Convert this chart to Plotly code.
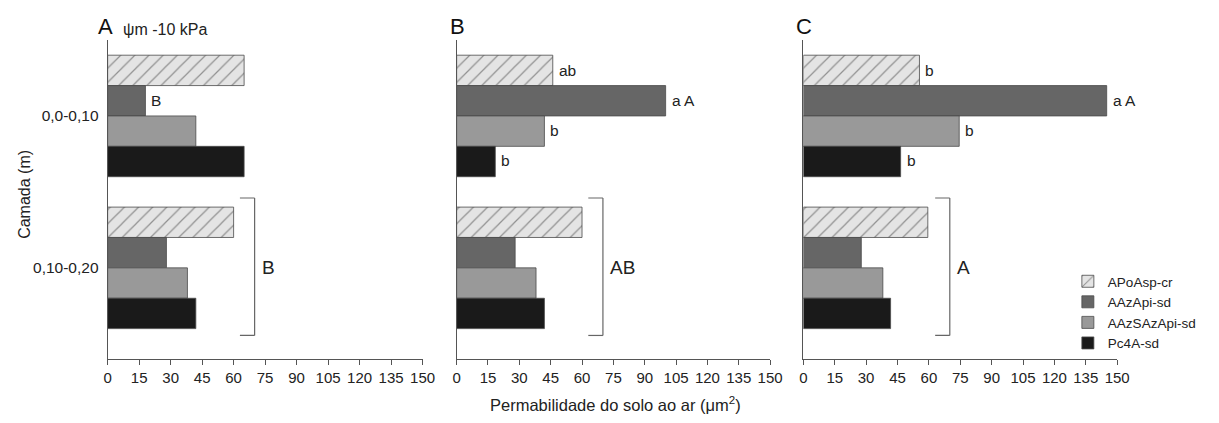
import plotly.graph_objects as go

layers = ["0,0-0,10", "0,10-0,20"]
series_names = ["APoAsp-cr", "AAzApi-sd", "AAzSAzApi-sd", "Pc4A-sd"]
panels = ["A", "B", "C"]

# values[panel][series] -> [layer1, layer2]
values_A = {
    "APoAsp-cr": [65, 60],
    "AAzApi-sd": [18, 28],
    "AAzSAzApi-sd": [42, 38],
    "Pc4A-sd": [65, 42],
}
values_B = {
    "APoAsp-cr": [46, 60],
    "AAzApi-sd": [100, 28],
    "AAzSAzApi-sd": [42, 38],
    "Pc4A-sd": [18.5, 42],
}
values_C = {
    "APoAsp-cr": [55.5, 59.5],
    "AAzApi-sd": [145, 27.7],
    "AAzSAzApi-sd": [74.5, 38],
    "Pc4A-sd": [46.5, 41.7],
}
labels_A = {
    "APoAsp-cr": [None, None],
    "AAzApi-sd": ["B", None],
    "AAzSAzApi-sd": [None, None],
    "Pc4A-sd": [None, None],
}
labels_B = {
    "APoAsp-cr": ["ab", None],
    "AAzApi-sd": ["a A", None],
    "AAzSAzApi-sd": ["b", None],
    "Pc4A-sd": ["b", None],
}
labels_C = {
    "APoAsp-cr": ["b", None],
    "AAzApi-sd": ["a A", None],
    "AAzSAzApi-sd": ["b", None],
    "Pc4A-sd": ["b", None],
}
bracket_labels = ["B", "AB", "A"]
x_ticks = [0, 15, 30, 45, 60, 75, 90, 105, 120, 135, 150]

all_values = [values_A, values_B, values_C]
all_labels = [labels_A, labels_B, labels_C]

colors = {
    "APoAsp-cr": "#e4e4e4",
    "AAzApi-sd": "#666666",
    "AAzSAzApi-sd": "#999999",
    "Pc4A-sd": "#1a1a1a",
}

# page has an 8px body margin; figure sized to fit inside the window
OFF = 8
W, H = 1219 - 2 * OFF, 423 - 2 * OFF


def px(x):
    return (x - OFF) / W


def py(y):
    return 1 - (y - OFF) / H


x_domains = [[px(105), px(424.5)], [px(459), px(777)], [px(810.7), px(1129)]]
y_domain = [py(359), py(40)]
bar_px = 30  # pixel thickness of each bar (0.8 of 152px category / 4)
label_yshift = [1.5 * bar_px, 0.5 * bar_px, -0.5 * bar_px, -1.5 * bar_px]

FONT = "Liberation Sans, Arial, sans-serif"
fig = go.Figure()

for p in range(3):
    xa = "x" if p == 0 else f"x{p+1}"
    ya = "y" if p == 0 else f"y{p+1}"
    for si, s in enumerate(series_names):
        marker = dict(color=colors[s], line=dict(color="#4a4a4a", width=0.8))
        if s == "APoAsp-cr":
            marker["pattern"] = dict(shape="/", fgcolor="#3c3c3c", bgcolor="#e4e4e4",
                                     size=10, solidity=0.12)
        fig.add_trace(go.Bar(
            y=layers, x=all_values[p][s], orientation="h", name=s,
            marker=marker, showlegend=(p == 2), legendgroup=s,
            xaxis=xa, yaxis=ya, hoverinfo="x+name",
        ))
        for li, lab in enumerate(all_labels[p][s]):
            if lab is None:
                continue
            fig.add_annotation(xref=xa, yref=ya, x=all_values[p][s][li], y=layers[li],
                               text=lab, showarrow=False, xanchor="left",
                               yanchor="middle", xshift=4, yshift=label_yshift[si],
                               font=dict(size=15.5, color="#222", family=FONT))

    axis_x = dict(domain=x_domains[p], range=[0, 150], tickvals=x_ticks,
                  showline=True, linecolor="#555", linewidth=1,
                  ticks="outside", ticklen=5, tickcolor="#555",
                  showgrid=False, zeroline=False,
                  tickfont=dict(size=15, color="#222", family=FONT),
                  anchor=ya)
    axis_y = dict(domain=y_domain, type="category", range=[1.6, -0.5],
                  showline=True, linecolor="#555", linewidth=1,
                  ticks="", showgrid=False, zeroline=False,
                  showticklabels=(p == 0), ticklabelstandoff=5,
                  tickfont=dict(size=15.5, color="#222", family=FONT),
                  anchor=xa)
    key = "" if p == 0 else str(p + 1)
    fig.layout["xaxis" + key] = axis_x
    fig.layout["yaxis" + key] = axis_y

    # bracket around second layer
    bx, bx0, yt, yb = 70, 63, 0.54, 1.445
    for (x0, y0, x1, y1) in [(bx0, yt, bx, yt), (bx, yt, bx, yb), (bx0, yb, bx, yb)]:
        fig.add_shape(type="line", xref=xa, yref=ya, x0=x0, y0=y0, x1=x1, y1=y1,
                      line=dict(color="#666", width=1.2))
    fig.add_annotation(xref=xa, yref=ya, x=72.5, y=1, text=bracket_labels[p],
                       showarrow=False, xanchor="left", yanchor="middle",
                       font=dict(size=19, color="#222", family=FONT))

# panel letters
letter_x = [93, 450, 801]
for p in range(3):
    fig.add_annotation(xref="paper", yref="paper", x=px(letter_x[p]), y=py(26),
                       text=panels[p], showarrow=False, xanchor="left", yanchor="middle",
                       font=dict(size=22, color="#111", family=FONT))
fig.add_annotation(xref="paper", yref="paper", x=px(119), y=py(29),
                   text="ψm -10 kPa", showarrow=False, xanchor="left", yanchor="middle",
                   font=dict(size=16, color="#222", family=FONT))

# axis titles
fig.add_annotation(xref="paper", yref="paper", x=px(20), y=py(194),
                   text="Camada (m)", textangle=-90, showarrow=False,
                   xanchor="center", yanchor="middle",
                   font=dict(size=16, color="#222", family=FONT))
fig.add_annotation(xref="paper", yref="paper", x=px(620), y=py(404),
                   text="Permabilidade do solo ao ar (μm<sup>2</sup>)", showarrow=False,
                   xanchor="center", yanchor="middle",
                   font=dict(size=16.5, color="#222", family=FONT))

fig.update_layout(
    width=W, height=H, margin=dict(l=0, r=0, t=0, b=0),
    barmode="group", bargap=0.2, bargroupgap=0,
    plot_bgcolor="white", paper_bgcolor="white",
    font=dict(family=FONT, size=15, color="#222"),
    legend=dict(x=px(1079), y=py(266), xanchor="left", yanchor="top",
                font=dict(size=13.5, color="#222", family=FONT),
                tracegroupgap=0, bgcolor="rgba(0,0,0,0)", itemwidth=30),
    showlegend=True,
)

fig.write_html("out.html")
